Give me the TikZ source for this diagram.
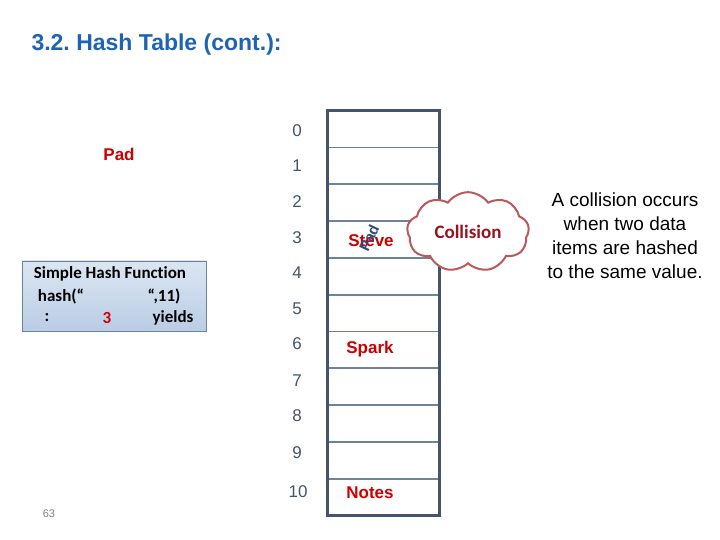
\documentclass[tikz,border=0pt]{standalone}
\usepackage{fontspec}
\setmainfont{Liberation Sans}
\newfontfamily\calfont[Ligatures=NoCommon]{Carlito}
\usetikzlibrary{positioning,shapes.symbols}
\frenchspacing

\definecolor{titleblue}{RGB}{30,100,180}
\definecolor{tableline}{RGB}{68,84,106}
\definecolor{rowline}{RGB}{110,130,155}
\definecolor{namered}{RGB}{204,0,0}
\definecolor{darkred}{RGB}{150,20,30}
\definecolor{cloudline}{RGB}{185,90,90}
\definecolor{padblue}{RGB}{45,75,125}
\definecolor{boxtop}{RGB}{220,230,242}
\definecolor{boxbottom}{RGB}{185,205,229}

\begin{document}
\begin{tikzpicture}[
x=1bp, y=-1bp,
node distance=0bp,
cell/.style={rectangle, draw=rowline, line width=0.8bp, minimum width=111bp, minimum height=36bp, inner sep=0pt},
idx/.style={text=tableline, font=\fontsize{17bp}{20bp}\selectfont},
entry/.style={text=namered, font=\bfseries\fontsize{17bp}{20bp}\selectfont},
hashtext/.style={font=\calfont\bfseries\fontsize{17bp}{20bp}\selectfont},
note/.style={align=center, font=\fontsize{19bp}{24bp}\selectfont}
]
\useasboundingbox (0,0) rectangle (720,540);

\node[anchor=west, text=titleblue, font=\bfseries\fontsize{23bp}{27bp}\selectfont] (title) at (28,45) {3.2. Hash Table (cont.):};

% table cells
\node[cell] (c0) at (383.5,129) {};
\node[cell, below=of c0] (c1) {};
\node[cell, below=of c1] (c2) {};
\node[cell, below=of c2] (c3) {};
\node[cell, below=of c3] (c4) {};
\node[cell, below=of c4] (c5) {};
\node[cell, below=of c5] (c6) {};
\node[cell, below=of c6] (c7) {};
\node[cell, below=of c7] (c8) {};
\node[cell, below=of c8] (c9) {};
\node[cell, below=of c9] (c10) {};
\draw[tableline, line width=3bp] (c0.north west) rectangle (c10.south east);

\node[idx] (i0) at (297,131) {0};
\node[idx] (i1) at (297,166) {1};
\node[idx] (i2) at (297,202) {2};
\node[idx] (i3) at (297,238) {3};
\node[idx] (i4) at (297,273) {4};
\node[idx] (i5) at (297,309) {5};
\node[idx] (i6) at (297,344) {6};
\node[idx] (i7) at (297,381) {7};
\node[idx] (i8) at (297,416) {8};
\node[idx] (i9) at (297,453) {9};
\node[idx] (i10) at (298,492) {10};

\node[entry] (steve) at (371,241) {Steve};
\node[entry] (spark) at (370,349) {Spark};
\node[entry] (notes) at (370,493) {Notes};

\node[text=padblue, rotate=65, font=\bfseries\fontsize{15bp}{18bp}\selectfont] (padrot) at (369,238) {Pad};

\node[entry] (pad) at (119,154) {Pad};

% hash function box
\node[rectangle, draw=rowline, top color=boxtop, bottom color=boxbottom, minimum width=184bp, minimum height=70bp] (hashbox) at (114,296) {};
\node[hashtext] (hfun) at (110,274) {Simple Hash Function};
\node[hashtext] (hcall) at (61,296) {hash(“};
\node[hashtext] (hargs) at (164,296) {“,11)};
\node[hashtext] (hcolon) at (47,318) {:};
\node[hashtext, text=namered] (hval) at (107,318) {3};
\node[hashtext] (hyield) at (173,318) {yields};

% collision cloud
\node[cloud, cloud puffs=9, cloud puff arc=110, aspect=1.6, draw=cloudline, line width=2bp, fill=white, minimum width=122bp, minimum height=66bp, text=darkred, font=\calfont\bfseries\fontsize{19bp}{22bp}\selectfont] (collision) at (468,232) {Collision};

\node[note] (explain) at (625,236) {A collision occurs\\when two data\\items are hashed\\to the same value.};

\node[text=gray, font=\fontsize{11bp}{13bp}\selectfont] (page) at (49,514) {63};

\end{tikzpicture}
\end{document}
